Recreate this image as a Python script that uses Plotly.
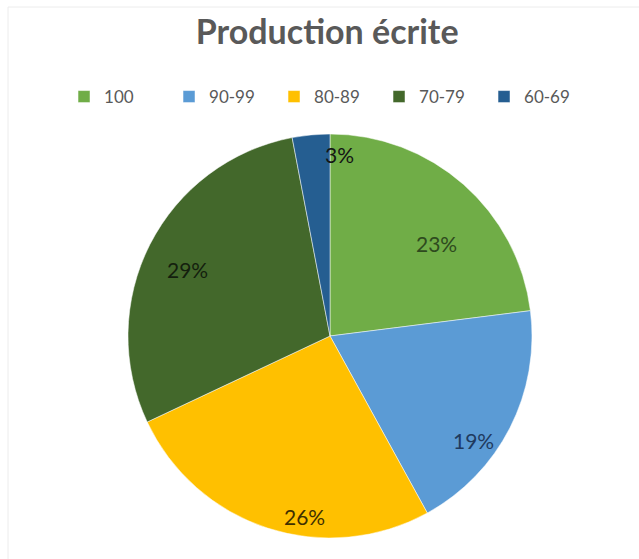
import math
import plotly.graph_objects as go

categories = ["100", "90-99", "80-89", "70-79", "60-69"]
values = [23, 19, 26, 29, 3]
slice_colors = ["#70AD47", "#5B9BD5", "#FFC000", "#43682B", "#255E91"]
label_colors = ["#2E4A1E", "#1F3A5F", "#3F3000", "#141F0E", "#141414"]
# label placement style (Excel "best fit"): radius fraction and angular nudge in degrees
label_radius = [0.70, 0.88, 0.90, 0.78, 0.90]
label_nudge = [7.5, 9, -10, -2, 8.5]

W, H = 639, 559
cx, cy, r = 330, 336, 202

fig = go.Figure(go.Pie(
    labels=categories,
    values=values,
    sort=False,
    direction="clockwise",
    rotation=0,
    marker=dict(colors=slice_colors, line=dict(color="white", width=0.5)),
    textinfo="none",
    hoverinfo="label+percent",
    domain=dict(x=[(cx - r) / W, (cx + r) / W], y=[(H - cy - r) / H, (H - cy + r) / H]),
))

total = sum(values)
annotations = []
cum = 0
for v, col, rf, nd in zip(values, label_colors, label_radius, label_nudge):
    mid = (cum + v / 2) / total * 2 * math.pi + math.radians(nd)
    cum += v
    annotations.append(dict(
        x=cx / W + rf * r * math.sin(mid) / W,
        y=(H - cy) / H + rf * r * math.cos(mid) / H,
        xref="paper", yref="paper", showarrow=False,
        text=f"{round(v / total * 100)}%",
        font=dict(family="Lato", size=21, color=col),
        xanchor="center", yanchor="middle",
    ))

fig.update_layout(
    width=W, height=H,
    margin=dict(l=0, r=0, t=0, b=0),
    paper_bgcolor="white",
    plot_bgcolor="white",
    title=dict(text="<b>Production écrite</b>", x=0.512, xanchor="center",
               y=1 - 32 / H, yanchor="middle",
               font=dict(family="Lato", size=34, color="#595959")),
    legend=dict(orientation="h", x=0.511, xanchor="center", y=1 - 97 / H, yanchor="middle",
                font=dict(family="Lato", size=17, color="#595959"),
                entrywidth=60, itemwidth=30, traceorder="normal"),
    annotations=annotations,
    shapes=[dict(type="rect", xref="paper", yref="paper",
                 x0=8 / W, x1=1.05, y0=-0.05, y1=1 - 7 / H,
                 line=dict(color="#ececec", width=1), fillcolor="rgba(0,0,0,0)")],
)

fig.write_html("out.html")
